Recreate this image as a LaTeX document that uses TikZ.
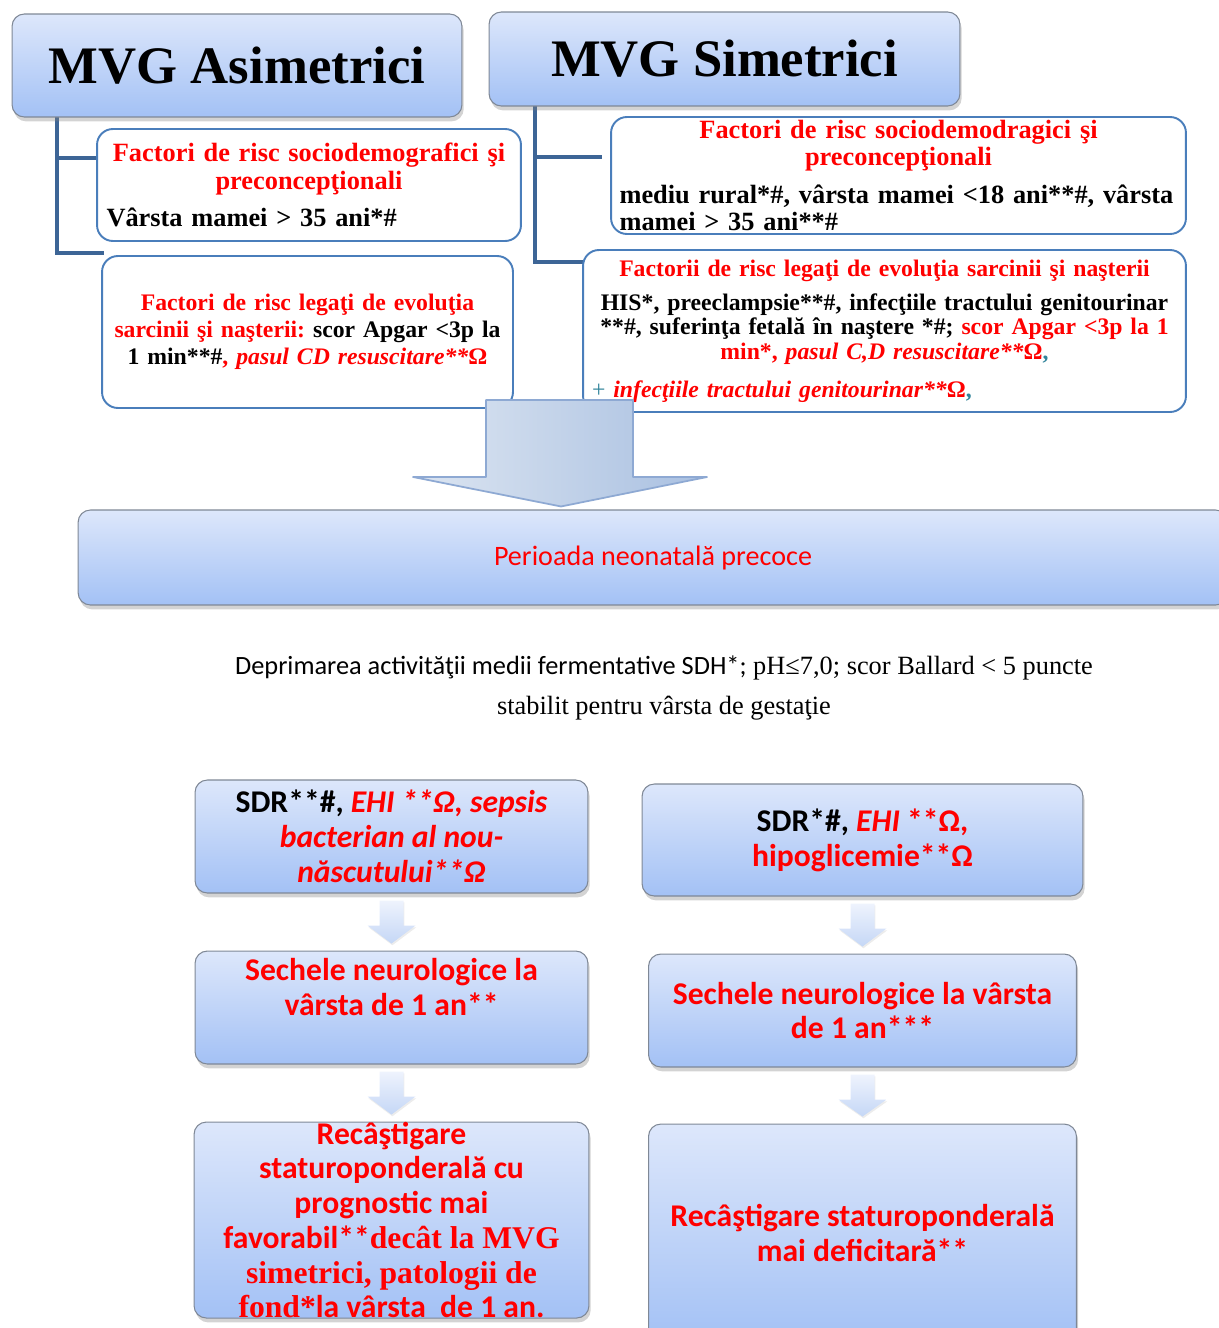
\documentclass[tikz,border=0pt]{standalone}
\usepackage{fontspec}
\setmainfont{Liberation Serif}
\newfontfamily\calibri{Carlito}
\usetikzlibrary{positioning, calc, shadows}
\definecolor{gradtop}{HTML}{DDE7FB}
\definecolor{gradbot}{HTML}{A3C1F5}
\definecolor{treeblue}{HTML}{3D6596}
\definecolor{framblue}{HTML}{4A7EBB}
\definecolor{framgray}{HTML}{7F8896}
\definecolor{arrlight}{HTML}{DCE5F1}
\definecolor{arrdark}{HTML}{A9C0E1}
\definecolor{arredge}{HTML}{8EA9D3}
\definecolor{tealish}{HTML}{31849B}
\definecolor{smalltop}{HTML}{EEF3FD}
\definecolor{smallbot}{HTML}{C5D7F6}
\newcommand{\rd}[1]{\textcolor{red}{#1}}
\frenchspacing

\begin{document}
\begin{tikzpicture}[x=0.02cm, y=-0.02cm,
    gbox/.style={rectangle, rounded corners=7pt, draw=framgray, line width=0.6pt, top color=gradtop, bottom color=gradbot, inner sep=0pt, align=center, drop shadow={opacity=0.35, shadow xshift=1pt, shadow yshift=-2.5pt}},
    wbox/.style={rectangle, rounded corners=9pt, draw=framblue, line width=1.1pt, fill=white, inner sep=0pt, font=\bfseries},
    tree/.style={draw=treeblue, line width=2.8pt},
    smallarrow/.style={top color=smalltop, bottom color=smallbot, drop shadow={opacity=0.15, shadow xshift=0.5pt, shadow yshift=-1pt}},
    bigarrow/.style={left color=arrlight, right color=arrdark, draw=arredge, line width=1pt, line join=round},
    sansbig/.style={font=\calibri\fontsize{18}{19.8}\selectfont\bfseries}]

    \useasboundingbox (0,0) rectangle (1218,1328);

    % tree lines
    \draw[tree] (57,117) |- (104,253);
    \draw[tree] (57,158) -- (97,158);
    \draw[tree] (535,106) |- (583,262);
    \draw[tree] (535,157) -- (602,157);

    % header boxes
    \node[gbox, minimum width=9cm, minimum height=2.06cm, font=\fontsize{30}{34}\selectfont\bfseries] (asym) at (237,65.5) {MVG Asimetrici};
    \node[gbox, minimum width=9.42cm, minimum height=1.88cm, font=\fontsize{30}{34}\selectfont\bfseries] (sym) at (724.5,59) {MVG Simetrici};

    % risk factors
    \node[wbox, minimum width=8.48cm, minimum height=2.24cm, text width=8.1cm, align=left, font=\fontsize{15}{16}\selectfont\bfseries] (socA) at (309,185)
        {{\centering\color{red}Factori de risc sociodemografici şi\\preconcepţionali\par}\vspace{5pt}Vârsta mamei > 35 ani*\#};
    \node[wbox, minimum width=8.22cm, minimum height=3.04cm, text width=7.9cm, align=center, font=\fontsize{13.5}{15.3}\selectfont\bfseries] (evoA) at (307.5,332)
        {\rd{Factori de risc legaţi de evoluţia}\\ \rd{sarcinii şi naşterii:} scor Apgar <3p la\\ 1 min**\#\rd{, \textit{pasul CD resuscitare**}Ω}};
    \node[wbox, minimum width=11.5cm, minimum height=2.34cm, text width=11.16cm, align=left, font=\fontsize{15}{15.5}\selectfont\bfseries] (socS) at (898.5,175.5)
        {{\centering\color{red}Factori de risc sociodemodragici şi\\preconcepţionali\par}\vspace{6pt}\makebox[11.16cm][s]{mediu rural*\#, vârsta mamei <18 ani**\#, vârsta}\\mamei > 35 ani**\#};
    \node[wbox, minimum width=12.06cm, minimum height=3.24cm, text width=11.7cm, align=left, font=\fontsize{13.5}{14.2}\selectfont\bfseries] (evoS) at (884.5,331)
        {{\centering\rd{Factorii de risc legaţi de evoluţia sarcinii şi naşterii}\par}\vspace{5pt}
         {\centering HIS*, preeclampsie**\#, infecţiile tractului genitourinar\\{}**\#, suferinţa fetală în naştere *\#; \rd{scor Apgar <3p la 1}\\ \rd{min*, \textit{pasul C,D resuscitare**}Ω}\textcolor{tealish}{,}\par}\vspace{7pt}
         \textcolor{tealish}{\mdseries +} \rd{\textit{infecţiile tractului genitourinar**}Ω}\textcolor{tealish}{,}};

    % neonatal period
    \node[gbox, minimum width=23cm, minimum height=1.9cm, font=\calibri\fontsize{16}{19}\selectfont, text=red] (neo) at (653,557.5) {Perioada neonatală precoce};
    \node[align=center, font=\fontsize{15}{22.7}\selectfont] (depr) at (664,688)
        {{\calibri Deprimarea activităţii medii fermentative SDH*;} pH≤7,0; scor Ballard < 5 puncte\\ stabilit pentru vârsta de gestaţie};

    % big arrow into the neonatal period
    \draw[bigarrow] (486,400) -- (633,400) -- (633,477) -- (707,477) -- ($(neo.north)+(-92,-3)$) -- (413,477) -- (486,477) -- cycle;

    % asymmetric column
    \node[gbox, sansbig, minimum width=7.86cm, minimum height=2.26cm] (sdrA) at (391.5,836.5)
        {SDR**\#, \rd{\textit{EHI **Ω, sepsis}}\\ \rd{\textit{bacterian al nou-}}\\ \rd{\textit{născutului**Ω}}};
    \node[gbox, sansbig, minimum width=7.86cm, minimum height=2.26cm, below=1.14cm of sdrA] (seqA)
        {\parbox[c][1.95cm][t]{7.6cm}{\centering\color{red}Sechele neurologice la\\ vârsta de 1 an**}};
    \node[gbox, sansbig, minimum width=7.86cm, minimum height=3.92cm, below=1.14cm of seqA] (recA)
        {\parbox[c][3.92cm][c]{7.9cm}{\centering\color{red}Recâştigare\\ staturoponderală cu\\ prognostic mai\\ favorabil**{\rmfamily decât la MVG}\\ {\rmfamily simetrici, patologii de}\\ {\rmfamily fond*}la vârsta~ de 1 an.}};

    % symmetric column
    \node[gbox, sansbig, minimum width=8.82cm, minimum height=2.24cm] (sdrS) at (862.5,840)
        {SDR*\#, \rd{\textit{EHI} **Ω,}\\ \rd{hipoglicemie**Ω}};
    \node[gbox, sansbig, minimum width=8.56cm, minimum height=2.26cm, below=1.14cm of sdrS] (seqS)
        {\rd{Sechele neurologice la vârsta}\\ \rd{de 1 an***}};
    \node[gbox, sansbig, minimum width=8.56cm, minimum height=4.36cm, below=1.12cm of seqS] (recS)
        {\raisebox{11pt}{\parbox{8cm}{\centering\color{red}Recâştigare staturoponderală\\ mai deficitară**}}};

    % small arrows between the steps
    \foreach \from/\to in {sdrA/seqA, seqA/recA, sdrS/seqS, seqS/recS}
        \path[smallarrow] ($(\from.south)+(-12,7)$) -- ($(\from.south)+(12,7)$) -- ($(\from.south)+(12,32)$) -- ($(\from.south)+(24,32)$)
            -- ($(\to.north)+(0,-7)$) -- ($(\from.south)+(-24,32)$) -- ($(\from.south)+(-12,32)$) -- cycle;

\end{tikzpicture}
\end{document}
